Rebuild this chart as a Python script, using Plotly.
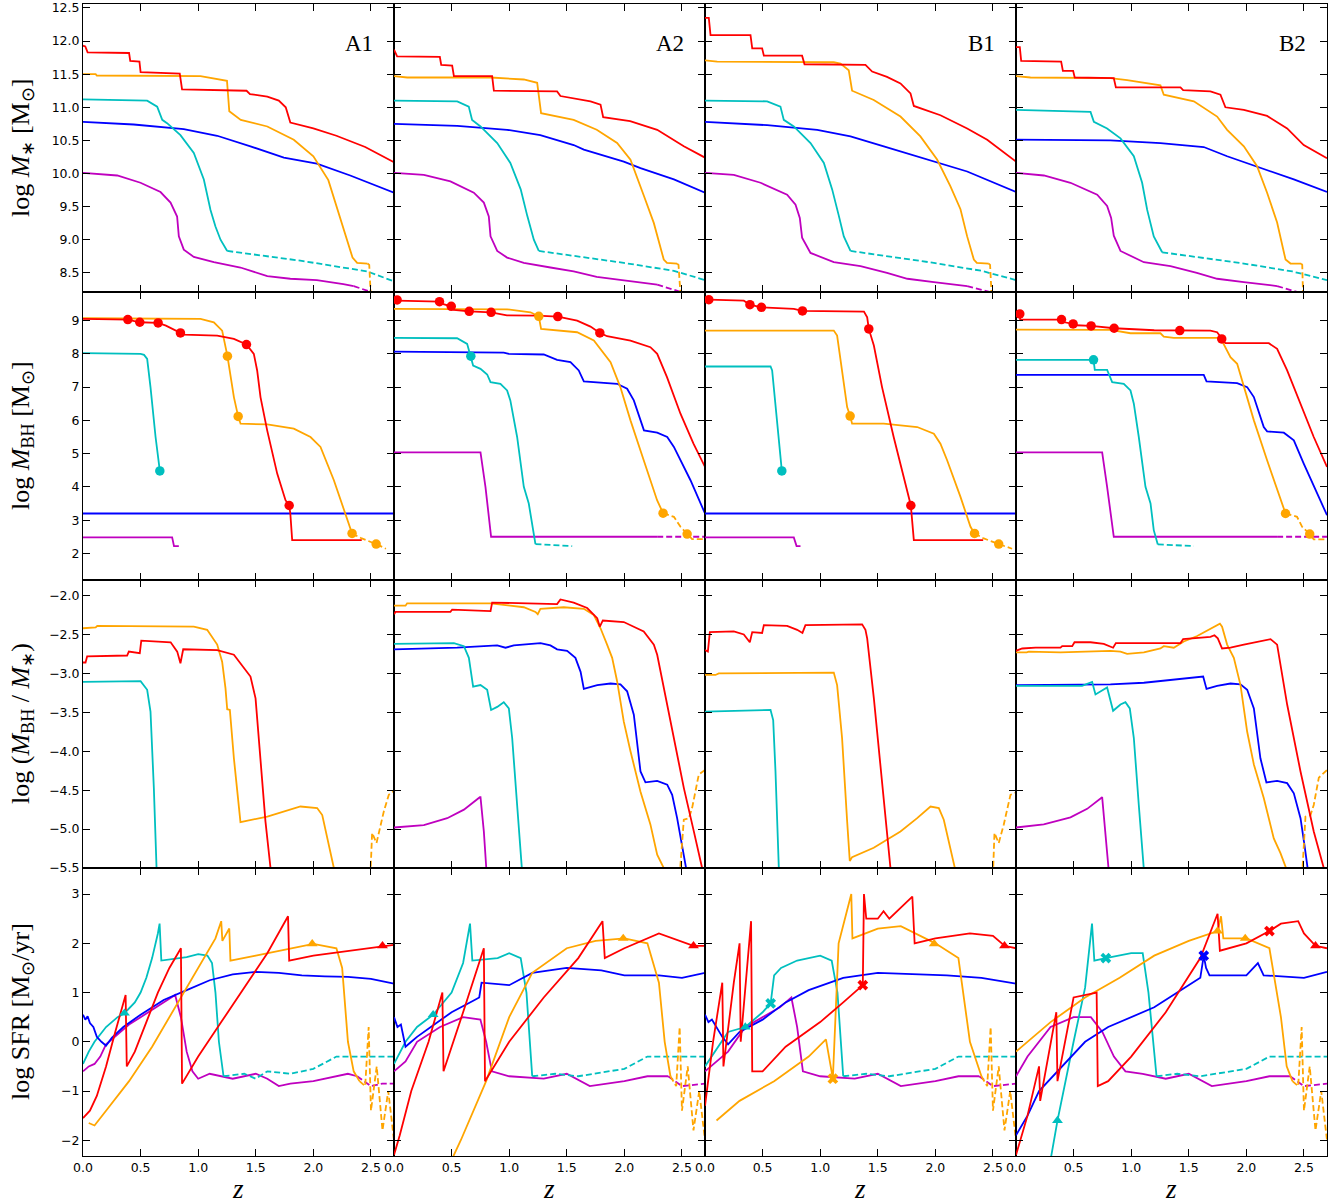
import plotly.graph_objects as go
from plotly.subplots import make_subplots

RED = '#ff0000'; ORANGE = '#ffa500'; CYAN = '#00bfbf'; BLUE = '#0000ff'; MAGENTA = '#bf00bf'

PANELS = ['A1', 'A2', 'B1', 'B2']
X_TICKS = [0.0, 0.5, 1.0, 1.5, 2.0, 2.5]
Y_TICKS = [
    [8.5, 9.0, 9.5, 10.0, 10.5, 11.0, 11.5, 12.0, 12.5],
    [2, 3, 4, 5, 6, 7, 8, 9],
    [-5.5, -5.0, -4.5, -4.0, -3.5, -3.0, -2.5, -2.0],
    [-2, -1, 0, 1, 2, 3],
]
Y_RANGES = [[8.21, 12.56], [1.2, 9.86], [-5.5, -1.8], [-2.32, 3.53]]
Y_TITLES = [
    'log <i>M</i><sub>∗</sub> [M<sub>⊙</sub>]',
    'log <i>M</i><sub>BH</sub> [M<sub>⊙</sub>]',
    'log (<i>M</i><sub>BH</sub> / <i>M</i><sub>∗</sub>)',
    'log SFR [M<sub>⊙</sub>/yr]',
]

# ---------------- Row 1: stellar mass ----------------
A1_MS_RED = ([0, 0.02, 0.04, 0.40, 0.41, 0.49, 0.50, 0.84, 0.86, 1.42, 1.45, 1.60, 1.70, 1.76, 1.80, 2.0, 2.2, 2.45, 2.7],
             [11.93, 11.92, 11.83, 11.82, 11.70, 11.69, 11.53, 11.51, 11.27, 11.25, 11.20, 11.16, 11.10, 11.00, 10.77, 10.68, 10.57, 10.40, 10.17])
A1_MS_ORA = ([0, 0.11, 0.12, 1.02, 1.25, 1.27, 1.37, 1.6, 1.83, 2.0, 2.13, 2.21, 2.28, 2.34, 2.38, 2.47],
             [11.50, 11.50, 11.48, 11.47, 11.40, 10.94, 10.81, 10.71, 10.51, 10.26, 9.90, 9.45, 9.05, 8.73, 8.65, 8.64])
A1_MS_ORA_D = ([2.47, 2.485, 2.50], [8.64, 8.62, 8.10])
A1_MS_CYA = ([0, 0.557, 0.644, 0.688, 0.73, 0.846, 0.962, 1.049, 1.107, 1.15, 1.194, 1.252],
             [11.12, 11.10, 11.01, 10.81, 10.76, 10.58, 10.31, 9.91, 9.45, 9.20, 9.0, 8.83])
A1_MS_CYA_D = ([1.252, 1.9, 2.47, 2.70], [8.83, 8.68, 8.52, 8.37])
A1_MS_BLU = ([0, 0.44, 0.875, 1.165, 1.454, 1.744, 2.03, 2.32, 2.70],
             [10.78, 10.74, 10.67, 10.57, 10.41, 10.24, 10.15, 9.97, 9.71])
A1_MS_MAG = ([0, 0.297, 0.499, 0.673, 0.76, 0.817, 0.832, 0.875, 0.962, 1.136, 1.367, 1.60, 1.80, 2.03, 2.26, 2.35],
             [10.01, 9.97, 9.86, 9.72, 9.56, 9.35, 9.05, 8.85, 8.74, 8.66, 8.58, 8.45, 8.41, 8.39, 8.33, 8.30])
A1_MS_MAG_D = ([2.35, 2.55], [8.30, 8.18])

A2_MS_RED = ([0, 0.027, 0.398, 0.41, 0.505, 0.52, 0.852, 0.867, 1.416, 1.445, 1.706, 1.793, 1.816, 2.05, 2.285, 2.43, 2.516, 2.70],
             [11.87, 11.77, 11.76, 11.64, 11.63, 11.47, 11.47, 11.25, 11.24, 11.17, 11.09, 11.04, 10.85, 10.79, 10.66, 10.51, 10.41, 10.24])
A2_MS_ORA = ([0, 0.115, 0.838, 1.127, 1.243, 1.277, 1.56, 1.76, 1.937, 2.053, 2.17, 2.256, 2.342, 2.37, 2.458],
             [11.47, 11.45, 11.45, 11.42, 11.37, 10.91, 10.81, 10.66, 10.46, 10.21, 9.66, 9.25, 8.70, 8.65, 8.64])
A2_MS_ORA_D = ([2.458, 2.47, 2.49], [8.64, 8.62, 8.10])
A2_MS_CYA = ([0, 0.549, 0.649, 0.678, 0.751, 0.896, 1.01, 1.10, 1.157, 1.214, 1.257],
             [11.10, 11.09, 11.01, 10.81, 10.71, 10.46, 10.16, 9.76, 9.36, 9.0, 8.83])
A2_MS_CYA_D = ([1.257, 1.995, 2.43, 2.70], [8.83, 8.65, 8.53, 8.39])
A2_MS_BLU = ([0, 0.549, 0.982, 1.27, 1.56, 1.648, 1.995, 2.14, 2.43, 2.70],
             [10.75, 10.72, 10.66, 10.58, 10.43, 10.36, 10.18, 10.08, 9.91, 9.71])
A2_MS_MAG = ([0, 0.259, 0.49, 0.693, 0.78, 0.823, 0.838, 0.896, 0.982, 1.127, 1.358, 1.56, 1.76, 1.995, 2.285],
             [10.01, 9.98, 9.88, 9.71, 9.56, 9.35, 9.05, 8.83, 8.73, 8.65, 8.58, 8.52, 8.44, 8.39, 8.32])
A2_MS_MAG_D = ([2.285, 2.473, 2.5], [8.32, 8.22, 8.19])

B1_MS_RED = ([0, 0.033, 0.048, 0.395, 0.41, 0.496, 0.511, 0.843, 0.864, 1.393, 1.451, 1.58, 1.697, 1.784, 1.813, 2.044, 2.276, 2.45, 2.70],
             [12.35, 12.35, 12.09, 12.09, 11.89, 11.89, 11.78, 11.78, 11.65, 11.64, 11.54, 11.46, 11.36, 11.21, 11.02, 10.88, 10.68, 10.51, 10.18])
B1_MS_ORA = ([0, 0.106, 1.118, 1.176, 1.248, 1.277, 1.465, 1.697, 1.87, 2.015, 2.13, 2.218, 2.276, 2.334, 2.36, 2.464],
             [11.71, 11.69, 11.68, 11.66, 11.56, 11.25, 11.11, 10.86, 10.56, 10.21, 9.81, 9.46, 9.05, 8.70, 8.65, 8.64])
B1_MS_ORA_D = ([2.464, 2.475, 2.49], [8.64, 8.62, 8.10])
B1_MS_CYA = ([0, 0.54, 0.655, 0.684, 0.771, 0.916, 1.032, 1.104, 1.162, 1.205, 1.263],
             [11.10, 11.09, 11.01, 10.81, 10.71, 10.46, 10.16, 9.76, 9.36, 9.05, 8.83])
B1_MS_CYA_D = ([1.263, 1.987, 2.4, 2.70], [8.83, 8.65, 8.53, 8.39])
B1_MS_BLU = ([0, 0.54, 0.974, 1.263, 1.552, 1.987, 2.276, 2.70],
             [10.78, 10.73, 10.66, 10.56, 10.41, 10.18, 10.03, 9.72])
B1_MS_MAG = ([0, 0.25, 0.482, 0.713, 0.786, 0.823, 0.843, 0.916, 1.118, 1.35, 1.58, 1.757, 1.987, 2.276],
             [10.01, 9.98, 9.86, 9.68, 9.53, 9.33, 9.03, 8.80, 8.66, 8.60, 8.50, 8.41, 8.36, 8.30])
B1_MS_MAG_D = ([2.276, 2.48, 2.52], [8.30, 8.21, 8.19])

B2_MS_RED = ([0, 0.033, 0.045, 0.392, 0.407, 0.496, 0.51, 0.849, 0.867, 1.428, 1.451, 1.688, 1.775, 1.818, 1.978, 2.18, 2.354, 2.498, 2.70],
             [11.91, 11.91, 11.70, 11.69, 11.55, 11.55, 11.45, 11.44, 11.30, 11.30, 11.26, 11.24, 11.19, 11.00, 10.96, 10.87, 10.68, 10.43, 10.23])
B2_MS_ORA = ([0, 0.126, 0.82, 0.965, 1.254, 1.283, 1.544, 1.746, 1.833, 1.978, 2.093, 2.18, 2.267, 2.34, 2.383, 2.476],
             [11.47, 11.45, 11.44, 11.41, 11.33, 11.19, 11.09, 10.86, 10.66, 10.41, 10.11, 9.71, 9.26, 8.70, 8.64, 8.64])
B2_MS_ORA_D = ([2.476, 2.485, 2.493], [8.64, 8.62, 8.10])
B2_MS_CYA = ([0, 0.647, 0.676, 0.791, 0.907, 1.023, 1.095, 1.139, 1.196, 1.269],
             [10.96, 10.93, 10.78, 10.68, 10.53, 10.26, 9.86, 9.45, 9.05, 8.81])
B2_MS_CYA_D = ([1.269, 1.978, 2.40, 2.70], [8.81, 8.64, 8.52, 8.39])
B2_MS_BLU = ([0, 0.82, 1.254, 1.63, 1.833, 2.122, 2.412, 2.70],
             [10.51, 10.50, 10.46, 10.40, 10.26, 10.09, 9.91, 9.72])
B2_MS_MAG = ([0, 0.242, 0.473, 0.705, 0.791, 0.826, 0.849, 0.907, 1.11, 1.341, 1.57, 1.746, 1.978, 2.267],
             [10.01, 9.97, 9.86, 9.68, 9.51, 9.33, 9.06, 8.83, 8.66, 8.60, 8.50, 8.41, 8.36, 8.30])
B2_MS_MAG_D = ([2.267, 2.455, 2.5], [8.30, 8.21, 8.18])

# ---------------- Row 2: black hole mass ----------------
A1_BH_RED = ([0, 0.389, 0.493, 0.652, 0.72, 0.846, 0.875, 1.165, 1.31, 1.419, 1.483, 1.512, 1.541, 1.599, 1.686, 1.758, 1.79, 1.80, 1.816, 2.42],
             [9.05, 9.03, 8.95, 8.93, 8.85, 8.63, 8.58, 8.55, 8.45, 8.28, 8.0, 7.5, 6.7, 5.7, 4.4, 3.6, 3.44, 3.2, 2.4, 2.4])
A1_BH_RED_PTS = ([0.389, 0.493, 0.652, 0.846, 1.419, 1.79], [9.03, 8.95, 8.93, 8.63, 8.28, 3.44])
A1_BH_ORA = ([0, 1.02, 1.136, 1.208, 1.254, 1.31, 1.347, 1.368, 1.60, 1.83, 1.975, 2.062, 2.178, 2.32, 2.336],
             [9.07, 9.05, 8.95, 8.70, 7.93, 6.7, 6.12, 5.9, 5.88, 5.75, 5.5, 5.2, 4.2, 2.7, 2.60])
A1_BH_ORA_D = ([2.336, 2.42, 2.545, 2.63], [2.60, 2.45, 2.28, 2.14])
A1_BH_ORA_PTS = ([1.254, 1.347, 2.336, 2.545], [7.93, 6.12, 2.60, 2.28])
A1_BH_CYA = ([0, 0.5, 0.53, 0.557, 0.586, 0.63, 0.667], [8.02, 8.0, 7.97, 7.85, 7.0, 5.5, 4.48])
A1_BH_CYA_PTS = ([0.667], [4.48])
A1_BH_BLU = ([0, 2.7], [3.2, 3.2])
A1_BH_MAG = ([0, 0.774, 0.79, 0.832], [2.48, 2.48, 2.22, 2.22])

A2_BH_RED = ([0, 0.027, 0.395, 0.42, 0.497, 0.52, 0.653, 0.843, 0.98, 1.243, 1.422, 1.59, 1.706, 1.787, 1.85, 2.053, 2.226, 2.285, 2.37, 2.487, 2.60, 2.70],
             [9.60, 9.60, 9.57, 9.50, 9.43, 9.32, 9.28, 9.25, 9.16, 9.15, 9.12, 9.0, 8.82, 8.63, 8.53, 8.40, 8.2, 8.0, 7.3, 6.2, 5.3, 4.6])
A2_BH_RED_PTS = ([0.027, 0.395, 0.497, 0.653, 0.843, 1.422, 1.787], [9.62, 9.57, 9.43, 9.28, 9.25, 9.12, 8.63])
A2_BH_ORA = ([0, 0.982, 1.185, 1.257, 1.277, 1.59, 1.735, 1.82, 1.88, 1.965, 2.053, 2.168, 2.284, 2.336],
             [9.35, 9.34, 9.25, 9.13, 8.75, 8.65, 8.4, 8.0, 7.75, 7.0, 6.0, 4.8, 3.6, 3.21])
A2_BH_ORA_D = ([2.336, 2.43, 2.487, 2.545, 2.588, 2.70], [3.21, 3.1, 2.8, 2.58, 2.43, 2.43])
A2_BH_ORA_PTS = ([1.257, 2.336, 2.545], [9.13, 3.21, 2.58])
A2_BH_CYA = ([0, 0.548, 0.635, 0.667, 0.687, 0.751, 0.809, 0.838, 0.924, 0.982, 1.01, 1.069, 1.127, 1.17, 1.214, 1.228],
             [8.48, 8.47, 8.30, 7.93, 7.65, 7.55, 7.38, 7.15, 7.10, 6.9, 6.6, 5.5, 4.0, 3.5, 2.5, 2.28])
A2_BH_CYA_D = ([1.228, 1.547], [2.28, 2.22])
A2_BH_CYA_PTS = ([0.667], [7.93])
A2_BH_BLU = ([0, 0.953, 0.997, 1.30, 1.416, 1.532, 1.604, 1.648, 1.937, 2.024, 2.082, 2.17, 2.285, 2.372, 2.43, 2.574, 2.70],
             [8.07, 8.04, 8.0, 7.98, 7.82, 7.75, 7.5, 7.17, 7.10, 6.95, 6.6, 5.7, 5.63, 5.5, 5.2, 4.2, 3.2])
A2_BH_MAG = ([0, 0.751, 0.794, 0.843, 2.285], [5.04, 5.04, 4.0, 2.5, 2.5])
A2_BH_MAG_D = ([2.285, 2.70], [2.5, 2.5])

B1_BH_RED = ([0, 0.037, 0.337, 0.39, 0.49, 0.771, 0.846, 1.38, 1.408, 1.422, 1.466, 1.537, 1.638, 1.73, 1.787, 1.813, 2.415],
             [9.63, 9.63, 9.60, 9.48, 9.40, 9.35, 9.29, 9.27, 9.1, 8.75, 8.25, 7.0, 5.5, 4.2, 3.44, 2.4, 2.4])
B1_BH_RED_PTS = ([0.033, 0.39, 0.49, 0.846, 1.422, 1.787], [9.63, 9.48, 9.40, 9.29, 8.75, 3.44])
B1_BH_ORA = ([0, 1.118, 1.147, 1.19, 1.234, 1.26, 1.277, 1.552, 1.842, 1.987, 2.044, 2.102, 2.218, 2.305, 2.34],
             [8.70, 8.70, 8.55, 7.5, 6.4, 6.13, 5.9, 5.9, 5.8, 5.6, 5.3, 4.8, 3.7, 2.8, 2.60])
B1_BH_ORA_D = ([2.34, 2.42, 2.55, 2.666], [2.60, 2.45, 2.28, 2.14])
B1_BH_ORA_PTS = ([1.26, 2.34, 2.55], [6.13, 2.60, 2.28])
B1_BH_CYA = ([0, 0.569, 0.583, 0.612, 0.655, 0.667], [7.62, 7.62, 7.5, 6.5, 4.9, 4.48])
B1_BH_CYA_PTS = ([0.667], [4.48])
B1_BH_BLU = ([0, 2.7], [3.2, 3.2])
B1_BH_MAG = ([0, 0.771, 0.795, 0.829], [2.48, 2.48, 2.22, 2.22])

B2_BH_RED = ([0.033, 0.036, 0.395, 0.42, 0.496, 0.52, 0.652, 0.852, 1.2, 1.422, 1.688, 1.746, 1.786, 1.818, 2.195, 2.267, 2.354, 2.47, 2.585, 2.70],
             [9.20, 9.03, 9.03, 8.95, 8.90, 8.86, 8.84, 8.77, 8.71, 8.70, 8.70, 8.65, 8.45, 8.32, 8.32, 8.15, 7.5, 6.5, 5.5, 4.6])
B2_BH_RED_PTS = ([0.033, 0.395, 0.496, 0.652, 0.852, 1.422, 1.786], [9.20, 9.03, 8.90, 8.84, 8.77, 8.70, 8.45])
B2_BH_ORA = ([0, 0.82, 0.994, 1.254, 1.283, 1.37, 1.775, 1.818, 1.862, 1.92, 1.978, 2.065, 2.18, 2.267, 2.34],
             [8.73, 8.72, 8.62, 8.62, 8.52, 8.48, 8.48, 8.2, 7.9, 7.7, 7.0, 6.0, 4.8, 3.9, 3.20])
B2_BH_ORA_D = ([2.34, 2.44, 2.484, 2.55, 2.585, 2.70], [3.20, 3.1, 2.8, 2.58, 2.42, 2.42])
B2_BH_ORA_PTS = ([2.34, 2.55], [3.20, 2.58])
B2_BH_CYA = ([0, 0.673, 0.684, 0.791, 0.835, 0.936, 0.994, 1.023, 1.066, 1.124, 1.168, 1.196, 1.231],
             [7.82, 7.82, 7.52, 7.52, 7.15, 7.10, 6.9, 6.5, 5.5, 4.0, 3.5, 2.7, 2.27])
B2_BH_CYA_D = ([1.231, 1.544], [2.27, 2.22])
B2_BH_CYA_PTS = ([0.673], [7.82])
B2_BH_BLU = ([0, 1.63, 1.654, 1.92, 2.007, 2.065, 2.151, 2.18, 2.325, 2.412, 2.498, 2.70],
             [7.37, 7.37, 7.17, 7.12, 7.0, 6.7, 5.8, 5.67, 5.63, 5.4, 4.7, 3.15])
B2_BH_MAG = ([0, 0.748, 0.791, 0.849, 2.267], [5.04, 5.04, 4.0, 2.5, 2.5])
B2_BH_MAG_D = ([2.267, 2.70], [2.5, 2.5])

# ---------------- Row 3: BH-to-stellar mass ratio ----------------
A1_RT_ORA = ([0, 0.11, 0.124, 0.962, 1.078, 1.165, 1.208, 1.237, 1.252, 1.275, 1.31, 1.344, 1.367, 1.6, 1.888, 2.033, 2.077, 2.178, 2.25],
             [-2.42, -2.41, -2.39, -2.40, -2.44, -2.63, -2.85, -3.19, -3.46, -3.47, -4.09, -4.64, -4.91, -4.84, -4.71, -4.73, -4.82, -5.5, -6.0])
A1_RT_ORA_D = ([2.495, 2.51, 2.548, 2.612, 2.655, 2.70], [-5.6, -5.05, -5.18, -4.77, -4.56, -4.51])
A1_RT_RED = ([0, 0.022, 0.036, 0.383, 0.398, 0.493, 0.506, 0.761, 0.818, 0.846, 0.87, 1.165, 1.31, 1.425, 1.454, 1.498, 1.541, 1.584, 1.628, 1.65],
             [-2.86, -2.86, -2.78, -2.77, -2.72, -2.74, -2.58, -2.60, -2.72, -2.87, -2.69, -2.70, -2.76, -2.98, -3.04, -3.32, -4.09, -4.90, -5.5, -6.0])
A1_RT_CYA = ([0, 0.5, 0.557, 0.586, 0.615, 0.638, 0.65], [-3.11, -3.10, -3.21, -3.49, -4.47, -5.5, -6.0])

A2_RT_ORA = ([0, 0.1, 0.114, 0.838, 1.127, 1.228, 1.248, 1.271, 1.474, 1.648, 1.735, 1.793, 1.85, 1.894, 1.937, 1.995, 2.053, 2.14, 2.226, 2.285, 2.342, 2.37],
             [-2.13, -2.13, -2.10, -2.10, -2.15, -2.21, -2.24, -2.17, -2.15, -2.17, -2.25, -2.42, -2.63, -2.80, -3.1, -3.62, -4.0, -4.52, -4.94, -5.33, -5.5, -5.7])
A2_RT_ORA_D = ([2.48, 2.516, 2.56, 2.588, 2.646, 2.70], [-5.6, -4.88, -4.86, -4.73, -4.30, -4.24])
A2_RT_RED = ([0, 0.013, 0.49, 0.505, 0.838, 0.852, 1.416, 1.445, 1.56, 1.677, 1.764, 1.787, 1.813, 1.995, 2.168, 2.256, 2.285, 2.342, 2.43, 2.516, 2.603, 2.675, 2.70],
             [-2.24, -2.21, -2.21, -2.18, -2.20, -2.09, -2.11, -2.05, -2.09, -2.16, -2.29, -2.40, -2.32, -2.34, -2.46, -2.63, -2.76, -3.19, -3.83, -4.47, -5.03, -5.5, -5.6])
A2_RT_CYA = ([0, 0.52, 0.607, 0.65, 0.687, 0.751, 0.809, 0.843, 0.896, 0.953, 0.997, 1.026, 1.069, 1.112, 1.13],
             [-2.62, -2.61, -2.65, -2.80, -3.17, -3.15, -3.21, -3.47, -3.43, -3.37, -3.45, -3.83, -4.69, -5.5, -5.9])
A2_RT_BLU = ([0, 0.548, 0.896, 0.968, 1.04, 1.272, 1.358, 1.416, 1.503, 1.575, 1.62, 1.648, 1.764, 1.88, 1.966, 2.024, 2.082, 2.14, 2.183, 2.285, 2.372, 2.415, 2.458, 2.50, 2.539, 2.56],
             [-2.69, -2.67, -2.64, -2.67, -2.64, -2.61, -2.64, -2.69, -2.71, -2.80, -2.98, -3.20, -3.15, -3.13, -3.14, -3.23, -3.53, -4.26, -4.40, -4.38, -4.43, -4.56, -4.86, -5.2, -5.5, -5.7])
A2_RT_MAG = ([0, 0.259, 0.462, 0.607, 0.745, 0.751, 0.78, 0.803, 0.81], [-4.98, -4.95, -4.86, -4.75, -4.59, -4.59, -5.03, -5.5, -5.7])

B1_RT_RED = ([0, 0.025, 0.042, 0.25, 0.337, 0.389, 0.41, 0.496, 0.511, 0.713, 0.8, 0.846, 0.872, 1.364, 1.393, 1.408, 1.466, 1.538, 1.61, 1.63],
             [-2.70, -2.72, -2.47, -2.46, -2.50, -2.60, -2.47, -2.48, -2.38, -2.39, -2.44, -2.48, -2.38, -2.37, -2.44, -2.55, -3.32, -4.43, -5.5, -5.8])
B1_RT_ORA = ([0, 0.091, 0.12, 1.118, 1.147, 1.19, 1.234, 1.257, 1.277, 1.465, 1.697, 1.842, 1.958, 2.03, 2.073, 2.175, 2.2],
             [-3.02, -3.02, -3.0, -2.99, -3.15, -3.83, -4.90, -5.41, -5.36, -5.24, -5.03, -4.86, -4.71, -4.73, -4.88, -5.5, -5.7])
B1_RT_ORA_D = ([2.50, 2.513, 2.55, 2.594, 2.652, 2.70], [-5.6, -5.05, -5.18, -4.94, -4.56, -4.53])
B1_RT_CYA = ([0, 0.569, 0.592, 0.612, 0.641, 0.65], [-3.49, -3.47, -3.60, -4.26, -5.5, -5.9])

B2_RT_RED = ([0, 0.039, 0.054, 0.17, 0.386, 0.401, 0.488, 0.508, 0.647, 0.762, 0.843, 0.867, 1.428, 1.451, 1.688, 1.723, 1.752, 1.789, 1.862, 1.978, 2.21, 2.267, 2.354, 2.47, 2.585, 2.672, 2.70],
             [-2.71, -2.69, -2.68, -2.67, -2.67, -2.65, -2.65, -2.60, -2.60, -2.62, -2.67, -2.61, -2.61, -2.56, -2.53, -2.51, -2.55, -2.68, -2.67, -2.63, -2.56, -2.63, -3.40, -4.26, -5.03, -5.5, -5.6])
B2_RT_ORA = ([0, 0.093, 0.111, 0.386, 0.82, 0.907, 0.965, 1.11, 1.254, 1.283, 1.37, 1.457, 1.573, 1.688, 1.77, 1.789, 1.833, 1.891, 1.949, 2.007, 2.065, 2.151, 2.238, 2.296, 2.348, 2.37],
             [-2.73, -2.73, -2.72, -2.73, -2.71, -2.72, -2.75, -2.73, -2.68, -2.65, -2.67, -2.59, -2.52, -2.43, -2.36, -2.40, -2.63, -2.80, -3.15, -3.75, -4.17, -4.60, -5.12, -5.31, -5.5, -5.6])
B2_RT_ORA_D = ([2.484, 2.513, 2.557, 2.585, 2.629, 2.70], [-5.6, -4.84, -4.82, -4.69, -4.34, -4.24])
B2_RT_BLU = ([0, 0.82, 1.11, 1.399, 1.625, 1.654, 1.746, 1.862, 1.949, 2.007, 2.065, 2.122, 2.174, 2.267, 2.354, 2.412, 2.47, 2.504, 2.536, 2.55],
             [-3.15, -3.14, -3.12, -3.08, -3.04, -3.20, -3.16, -3.13, -3.14, -3.21, -3.45, -4.09, -4.40, -4.38, -4.41, -4.54, -4.86, -5.20, -5.5, -5.7])
B2_RT_CYA = ([0, 0.574, 0.661, 0.69, 0.791, 0.843, 0.907, 0.95, 0.988, 1.023, 1.066, 1.11, 1.125],
             [-3.16, -3.16, -3.11, -3.27, -3.18, -3.48, -3.40, -3.37, -3.45, -3.83, -4.69, -5.5, -5.8])
B2_RT_MAG = ([0, 0.241, 0.473, 0.618, 0.748, 0.777, 0.806, 0.815], [-4.98, -4.94, -4.85, -4.74, -4.59, -5.03, -5.5, -5.7])

# ---------------- Row 4: star formation rate ----------------
A1_SF_BLU = ([0, 0.02, 0.04, 0.06, 0.09, 0.12, 0.16, 0.2, 0.25, 0.35, 0.5, 0.7, 0.9, 1.1, 1.3, 1.5, 1.7, 1.9, 2.1, 2.3, 2.5, 2.7],
             [0.55, 0.45, 0.52, 0.38, 0.30, 0.10, 0.0, -0.08, 0.08, 0.3, 0.55, 0.85, 1.05, 1.25, 1.37, 1.42, 1.40, 1.35, 1.33, 1.32, 1.28, 1.18])
A1_SF_CYA = ([0, 0.05, 0.1, 0.2, 0.3, 0.36, 0.45, 0.5, 0.55, 0.6, 0.65, 0.665, 0.68, 0.8, 0.9, 1.0, 1.08, 1.12, 1.15, 1.18, 1.22],
             [-0.45, -0.2, 0.0, 0.3, 0.5, 0.58, 0.8, 1.0, 1.3, 1.7, 2.2, 2.4, 1.65, 1.68, 1.72, 1.78, 1.75, 1.6, 1.0, 0.0, -0.7])
A1_SF_CYA_D = ([1.22, 1.4, 1.5, 1.6, 1.8, 2.0, 2.2, 2.4, 2.7], [-0.7, -0.65, -0.75, -0.6, -0.65, -0.55, -0.3, -0.3, -0.3])
A1_SF_MAG = ([0, 0.05, 0.1, 0.15, 0.2, 0.3, 0.4, 0.5, 0.6, 0.7, 0.8, 0.85, 0.9, 0.95, 1.0, 1.1, 1.3, 1.5, 1.6, 1.7, 1.8, 2.0, 2.1, 2.2, 2.3, 2.38],
             [-0.6, -0.5, -0.45, -0.3, -0.05, 0.15, 0.35, 0.5, 0.65, 0.8, 0.95, 0.5, -0.2, -0.6, -0.75, -0.65, -0.75, -0.65, -0.75, -0.9, -0.85, -0.8, -0.75, -0.7, -0.65, -0.7])
A1_SF_MAG_D = ([2.38, 2.5, 2.6, 2.7], [-0.7, -0.9, -0.85, -0.85])
A1_SF_RED = ([0, 0.06, 0.12, 0.2, 0.28, 0.37, 0.38, 0.45, 0.55, 0.65, 0.75, 0.85, 0.86, 1.0, 1.2, 1.4, 1.6, 1.78, 1.79, 2.0, 2.3, 2.6, 2.7],
             [-1.55, -1.4, -1.1, -0.5, 0.2, 0.95, -0.5, -0.2, 0.4, 1.0, 1.5, 1.9, -0.85, -0.3, 0.4, 1.1, 1.8, 2.55, 1.65, 1.75, 1.85, 1.95, 1.97])
A1_SF_ORA = ([0.05, 0.1, 0.2, 0.4, 0.6, 0.8, 1.0, 1.15, 1.2, 1.21, 1.27, 1.28, 1.5, 1.8, 2.0, 2.2, 2.25, 2.3, 2.35, 2.4],
             [-1.65, -1.7, -1.4, -0.8, -0.1, 0.7, 1.5, 2.1, 2.45, 2.05, 2.3, 1.65, 1.75, 1.9, 1.99, 1.9, 1.5, 0.0, -0.6, -0.8])
A1_SF_ORA_D = ([2.4, 2.45, 2.48, 2.5, 2.55, 2.6, 2.65, 2.7], [-0.8, -0.9, 0.3, -1.4, -0.5, -1.8, -1.0, -2.0])
A1_SF_TRI = ([0.36, 1.99, 2.6], [0.58, 1.99, 1.95])

A2_SF_BLU = ([0, 0.03, 0.06, 0.1, 0.15, 0.2, 0.35, 0.5, 0.7, 0.74, 0.76, 1.0, 1.2, 1.5, 1.8, 2.0, 2.3, 2.5, 2.7],
             [0.5, 0.3, 0.35, -0.1, 0.0, 0.1, 0.35, 0.6, 0.85, 0.9, 1.2, 1.15, 1.4, 1.5, 1.45, 1.35, 1.35, 1.3, 1.4])
A2_SF_CYA = ([0, 0.1, 0.2, 0.34, 0.5, 0.6, 0.66, 0.68, 0.9, 1.0, 1.1, 1.15, 1.2],
             [-0.45, 0.0, 0.3, 0.55, 1.0, 1.6, 2.4, 1.65, 1.7, 1.8, 1.7, 1.0, -0.7])
A2_SF_CYA_D = ([1.2, 1.4, 1.6, 2.0, 2.2, 2.7], [-0.7, -0.65, -0.7, -0.55, -0.3, -0.3])
A2_SF_MAG = ([0, 0.1, 0.2, 0.4, 0.6, 0.75, 0.8, 0.85, 1.0, 1.3, 1.5, 1.7, 2.0, 2.2, 2.38],
             [-0.6, -0.4, 0.0, 0.3, 0.5, 0.45, 0.0, -0.6, -0.7, -0.75, -0.65, -0.9, -0.8, -0.7, -0.7])
A2_SF_MAG_D = ([2.38, 2.5, 2.7], [-0.7, -0.9, -0.85])
A2_SF_RED = ([0, 0.05, 0.15, 0.3, 0.42, 0.43, 0.6, 0.78, 0.79, 1.0, 1.3, 1.6, 1.81, 1.83, 2.0, 2.3, 2.6, 2.7],
             [-2.3, -1.9, -1.0, 0.0, 1.0, -0.6, 0.6, 1.9, -0.8, 0.0, 0.9, 1.7, 2.45, 1.7, 1.9, 2.2, 1.95, 1.95])
A2_SF_ORA = ([0.5, 0.58, 0.8, 1.0, 1.2, 1.5, 1.75, 2.0, 2.2, 2.3, 2.35, 2.4],
             [-2.4, -2.0, -0.8, 0.5, 1.4, 1.9, 2.05, 2.1, 2.0, 1.2, 0.0, -0.7])
A2_SF_ORA_D = ([2.4, 2.45, 2.48, 2.5, 2.55, 2.6, 2.65, 2.7], [-0.7, -0.9, 0.3, -1.4, -0.5, -1.8, -1.0, -2.0])
A2_SF_TRI = ([0.34, 1.99, 2.6], [0.55, 2.1, 1.95])

B1_SF_BLU = ([0, 0.03, 0.06, 0.1, 0.15, 0.2, 0.3, 0.5, 0.7, 0.9, 1.2, 1.5, 1.8, 2.1, 2.4, 2.7],
             [0.55, 0.4, 0.45, 0.3, 0.1, -0.05, 0.2, 0.45, 0.8, 1.05, 1.3, 1.4, 1.38, 1.35, 1.3, 1.18])
B1_SF_CYA = ([0, 0.2, 0.35, 0.5, 0.57, 0.6, 0.66, 0.8, 1.0, 1.1, 1.15, 1.2],
             [-0.5, 0.2, 0.3, 0.6, 0.78, 1.35, 1.5, 1.65, 1.75, 1.65, 1.0, -0.7])
B1_SF_CYA_D = ([1.2, 1.4, 1.6, 2.0, 2.2, 2.7], [-0.7, -0.65, -0.7, -0.55, -0.3, -0.3])
B1_SF_MAG = ([0, 0.2, 0.35, 0.5, 0.65, 0.75, 0.8, 0.85, 1.0, 1.3, 1.5, 1.7, 2.0, 2.2, 2.38],
             [-0.6, -0.2, 0.3, 0.5, 0.7, 0.9, 0.3, -0.6, -0.7, -0.75, -0.65, -0.9, -0.8, -0.7, -0.7])
B1_SF_MAG_D = ([2.38, 2.5, 2.7], [-0.7, -0.9, -0.85])
B1_SF_RED = ([0, 0.07, 0.15, 0.16, 0.25, 0.3, 0.31, 0.4, 0.41, 0.5, 0.7, 1.0, 1.2, 1.37, 1.38, 1.4, 1.5, 1.55, 1.6, 1.8, 1.82, 2.0, 2.3, 2.5, 2.6, 2.7],
             [-1.3, 0.0, 1.2, -0.5, 1.2, 2.0, 0.0, 2.45, -0.6, -0.6, -0.1, 0.4, 0.8, 1.15, 3.0, 2.5, 2.5, 2.65, 2.5, 2.95, 2.0, 2.1, 2.2, 2.15, 1.95, 1.9])
B1_SF_ORA = ([0.1, 0.3, 0.6, 0.9, 1.05, 1.11, 1.16, 1.27, 1.28, 1.5, 1.7, 2.0, 2.2, 2.3, 2.4],
             [-1.6, -1.2, -0.8, -0.3, 0.05, -0.75, 2.0, 3.0, 2.1, 2.3, 2.35, 2.0, 1.7, 0.0, -0.7])
B1_SF_ORA_D = ([2.4, 2.45, 2.48, 2.5, 2.55, 2.6, 2.65, 2.7], [-0.7, -0.9, 0.3, -1.4, -0.5, -1.8, -1.0, -2.0])
B1_SF_TRI = ([0.35, 1.99, 2.6], [0.3, 1.99, 1.95])
B1_SF_X = ([0.57, 1.11, 1.37], [0.78, -0.75, 1.15])

B2_SF_BLU = ([0, 0.1, 0.2, 0.4, 0.6, 0.8, 1.0, 1.2, 1.4, 1.6, 1.63, 1.65, 1.68, 2.0, 2.1, 2.15, 2.5, 2.7],
             [-1.9, -1.5, -1.0, -0.5, 0.0, 0.3, 0.5, 0.7, 1.0, 1.3, 1.75, 1.5, 1.35, 1.35, 1.6, 1.35, 1.3, 1.42])
B2_SF_CYA = ([0.3, 0.36, 0.5, 0.6, 0.66, 0.68, 0.78, 1.0, 1.1, 1.15, 1.22],
             [-2.4, -1.6, 0.0, 1.1, 2.4, 1.65, 1.7, 1.8, 1.8, 1.0, -0.7])
B2_SF_CYA_D = ([1.22, 1.4, 1.6, 2.0, 2.2, 2.7], [-0.7, -0.65, -0.7, -0.55, -0.3, -0.3])
B2_SF_MAG = ([0, 0.1, 0.3, 0.5, 0.65, 0.75, 0.85, 0.95, 1.1, 1.3, 1.5, 1.7, 2.0, 2.2, 2.38],
             [-0.7, -0.3, 0.3, 0.5, 0.5, 0.2, -0.3, -0.6, -0.65, -0.75, -0.65, -0.9, -0.8, -0.7, -0.7])
B2_SF_MAG_D = ([2.38, 2.5, 2.7], [-0.7, -0.9, -0.85])
B2_SF_RED = ([0, 0.1, 0.2, 0.21, 0.35, 0.36, 0.5, 0.7, 0.71, 0.8, 1.0, 1.3, 1.6, 1.75, 1.77, 2.0, 2.2, 2.3, 2.45, 2.5, 2.6, 2.7],
             [-2.3, -1.5, -0.5, -1.2, 0.6, -0.8, 0.9, 1.0, -0.9, -0.8, -0.3, 0.6, 1.7, 2.6, 1.85, 2.0, 2.25, 2.4, 2.45, 2.2, 1.95, 1.9])
B2_SF_ORA = ([0, 0.3, 0.6, 0.9, 1.2, 1.5, 1.75, 1.78, 1.8, 2.0, 2.2, 2.3, 2.35, 2.4],
             [-0.2, 0.4, 0.9, 1.3, 1.75, 2.05, 2.25, 2.55, 2.1, 2.1, 1.9, 0.5, -0.5, -0.8])
B2_SF_ORA_D = ([2.4, 2.45, 2.48, 2.5, 2.55, 2.6, 2.65, 2.7], [-0.8, -0.9, 0.3, -1.4, -0.5, -1.8, -1.0, -2.0])
B2_SF_TRI = ([0.36, 1.75, 1.99, 2.6], [-1.6, 2.25, 2.1, 1.95])
B2_SF_X = ([0.78, 1.63, 2.2], [1.7, 1.75, 2.25])

A1_SF_TRI_COLORS = [CYAN, ORANGE, RED]
A2_SF_TRI_COLORS = [CYAN, ORANGE, RED]
B1_SF_TRI_COLORS = [CYAN, ORANGE, RED]
B1_SF_X_COLORS = [CYAN, ORANGE, RED]
B2_SF_TRI_COLORS = [CYAN, ORANGE, ORANGE, RED]
B2_SF_X_COLORS = [CYAN, BLUE, RED]

# ---------------- assemble ----------------
LINES = [
    (1, 1, MAGENTA, False, A1_MS_MAG), (1, 1, MAGENTA, True, A1_MS_MAG_D),
    (1, 1, BLUE, False, A1_MS_BLU),
    (1, 1, CYAN, False, A1_MS_CYA), (1, 1, CYAN, True, A1_MS_CYA_D),
    (1, 1, ORANGE, False, A1_MS_ORA), (1, 1, ORANGE, True, A1_MS_ORA_D),
    (1, 1, RED, False, A1_MS_RED),
    (1, 2, MAGENTA, False, A2_MS_MAG), (1, 2, MAGENTA, True, A2_MS_MAG_D),
    (1, 2, BLUE, False, A2_MS_BLU),
    (1, 2, CYAN, False, A2_MS_CYA), (1, 2, CYAN, True, A2_MS_CYA_D),
    (1, 2, ORANGE, False, A2_MS_ORA), (1, 2, ORANGE, True, A2_MS_ORA_D),
    (1, 2, RED, False, A2_MS_RED),
    (1, 3, MAGENTA, False, B1_MS_MAG), (1, 3, MAGENTA, True, B1_MS_MAG_D),
    (1, 3, BLUE, False, B1_MS_BLU),
    (1, 3, CYAN, False, B1_MS_CYA), (1, 3, CYAN, True, B1_MS_CYA_D),
    (1, 3, ORANGE, False, B1_MS_ORA), (1, 3, ORANGE, True, B1_MS_ORA_D),
    (1, 3, RED, False, B1_MS_RED),
    (1, 4, MAGENTA, False, B2_MS_MAG), (1, 4, MAGENTA, True, B2_MS_MAG_D),
    (1, 4, BLUE, False, B2_MS_BLU),
    (1, 4, CYAN, False, B2_MS_CYA), (1, 4, CYAN, True, B2_MS_CYA_D),
    (1, 4, ORANGE, False, B2_MS_ORA), (1, 4, ORANGE, True, B2_MS_ORA_D),
    (1, 4, RED, False, B2_MS_RED),

    (2, 1, MAGENTA, False, A1_BH_MAG), (2, 1, BLUE, False, A1_BH_BLU),
    (2, 1, CYAN, False, A1_BH_CYA),
    (2, 1, ORANGE, False, A1_BH_ORA), (2, 1, ORANGE, True, A1_BH_ORA_D),
    (2, 1, RED, False, A1_BH_RED),
    (2, 2, MAGENTA, False, A2_BH_MAG), (2, 2, MAGENTA, True, A2_BH_MAG_D),
    (2, 2, BLUE, False, A2_BH_BLU),
    (2, 2, CYAN, False, A2_BH_CYA), (2, 2, CYAN, True, A2_BH_CYA_D),
    (2, 2, ORANGE, False, A2_BH_ORA), (2, 2, ORANGE, True, A2_BH_ORA_D),
    (2, 2, RED, False, A2_BH_RED),
    (2, 3, MAGENTA, False, B1_BH_MAG), (2, 3, BLUE, False, B1_BH_BLU),
    (2, 3, CYAN, False, B1_BH_CYA),
    (2, 3, ORANGE, False, B1_BH_ORA), (2, 3, ORANGE, True, B1_BH_ORA_D),
    (2, 3, RED, False, B1_BH_RED),
    (2, 4, MAGENTA, False, B2_BH_MAG), (2, 4, MAGENTA, True, B2_BH_MAG_D),
    (2, 4, BLUE, False, B2_BH_BLU),
    (2, 4, CYAN, False, B2_BH_CYA), (2, 4, CYAN, True, B2_BH_CYA_D),
    (2, 4, ORANGE, False, B2_BH_ORA), (2, 4, ORANGE, True, B2_BH_ORA_D),
    (2, 4, RED, False, B2_BH_RED),

    (3, 1, CYAN, False, A1_RT_CYA),
    (3, 1, ORANGE, False, A1_RT_ORA), (3, 1, ORANGE, True, A1_RT_ORA_D),
    (3, 1, RED, False, A1_RT_RED),
    (3, 2, MAGENTA, False, A2_RT_MAG), (3, 2, BLUE, False, A2_RT_BLU),
    (3, 2, CYAN, False, A2_RT_CYA),
    (3, 2, ORANGE, False, A2_RT_ORA), (3, 2, ORANGE, True, A2_RT_ORA_D),
    (3, 2, RED, False, A2_RT_RED),
    (3, 3, CYAN, False, B1_RT_CYA),
    (3, 3, ORANGE, False, B1_RT_ORA), (3, 3, ORANGE, True, B1_RT_ORA_D),
    (3, 3, RED, False, B1_RT_RED),
    (3, 4, MAGENTA, False, B2_RT_MAG), (3, 4, BLUE, False, B2_RT_BLU),
    (3, 4, CYAN, False, B2_RT_CYA),
    (3, 4, ORANGE, False, B2_RT_ORA), (3, 4, ORANGE, True, B2_RT_ORA_D),
    (3, 4, RED, False, B2_RT_RED),

    (4, 1, MAGENTA, False, A1_SF_MAG), (4, 1, MAGENTA, True, A1_SF_MAG_D),
    (4, 1, CYAN, False, A1_SF_CYA), (4, 1, CYAN, True, A1_SF_CYA_D),
    (4, 1, BLUE, False, A1_SF_BLU),
    (4, 1, ORANGE, False, A1_SF_ORA), (4, 1, ORANGE, True, A1_SF_ORA_D),
    (4, 1, RED, False, A1_SF_RED),
    (4, 2, MAGENTA, False, A2_SF_MAG), (4, 2, MAGENTA, True, A2_SF_MAG_D),
    (4, 2, CYAN, False, A2_SF_CYA), (4, 2, CYAN, True, A2_SF_CYA_D),
    (4, 2, BLUE, False, A2_SF_BLU),
    (4, 2, ORANGE, False, A2_SF_ORA), (4, 2, ORANGE, True, A2_SF_ORA_D),
    (4, 2, RED, False, A2_SF_RED),
    (4, 3, MAGENTA, False, B1_SF_MAG), (4, 3, MAGENTA, True, B1_SF_MAG_D),
    (4, 3, CYAN, False, B1_SF_CYA), (4, 3, CYAN, True, B1_SF_CYA_D),
    (4, 3, BLUE, False, B1_SF_BLU),
    (4, 3, ORANGE, False, B1_SF_ORA), (4, 3, ORANGE, True, B1_SF_ORA_D),
    (4, 3, RED, False, B1_SF_RED),
    (4, 4, MAGENTA, False, B2_SF_MAG), (4, 4, MAGENTA, True, B2_SF_MAG_D),
    (4, 4, CYAN, False, B2_SF_CYA), (4, 4, CYAN, True, B2_SF_CYA_D),
    (4, 4, BLUE, False, B2_SF_BLU),
    (4, 4, ORANGE, False, B2_SF_ORA), (4, 4, ORANGE, True, B2_SF_ORA_D),
    (4, 4, RED, False, B2_SF_RED),
]

MARKERS = [
    (2, 1, RED, 'circle', A1_BH_RED_PTS), (2, 1, ORANGE, 'circle', A1_BH_ORA_PTS), (2, 1, CYAN, 'circle', A1_BH_CYA_PTS),
    (2, 2, RED, 'circle', A2_BH_RED_PTS), (2, 2, ORANGE, 'circle', A2_BH_ORA_PTS), (2, 2, CYAN, 'circle', A2_BH_CYA_PTS),
    (2, 3, RED, 'circle', B1_BH_RED_PTS), (2, 3, ORANGE, 'circle', B1_BH_ORA_PTS), (2, 3, CYAN, 'circle', B1_BH_CYA_PTS),
    (2, 4, RED, 'circle', B2_BH_RED_PTS), (2, 4, ORANGE, 'circle', B2_BH_ORA_PTS), (2, 4, CYAN, 'circle', B2_BH_CYA_PTS),
    (4, 1, A1_SF_TRI_COLORS, 'triangle-up', A1_SF_TRI),
    (4, 2, A2_SF_TRI_COLORS, 'triangle-up', A2_SF_TRI),
    (4, 3, B1_SF_TRI_COLORS, 'triangle-up', B1_SF_TRI),
    (4, 3, B1_SF_X_COLORS, 'x', B1_SF_X),
    (4, 4, B2_SF_TRI_COLORS, 'triangle-up', B2_SF_TRI),
    (4, 4, B2_SF_X_COLORS, 'x', B2_SF_X),
]

fig = make_subplots(rows=4, cols=4, horizontal_spacing=0, vertical_spacing=0)

for row, col, color, dashed, (zs, vs) in LINES:
    fig.add_trace(go.Scatter(x=zs, y=vs, mode='lines', showlegend=False, hoverinfo='skip',
                             line=dict(color=color, width=1.8, dash='6px,3px' if dashed else 'solid')),
                  row=row, col=col)

for row, col, colors, symbol, (zs, vs) in MARKERS:
    fig.add_trace(go.Scatter(x=zs, y=vs, mode='markers', showlegend=False, hoverinfo='skip',
                             marker=dict(color=colors, symbol=symbol, size=9.5, line=dict(width=0))),
                  row=row, col=col)

TICK_FONT = dict(family='DejaVu Sans', size=12.5, color='black')
for r in range(1, 5):
    for c in range(1, 5):
        fig.update_xaxes(row=r, col=c, range=[0, 2.7], tickvals=X_TICKS, tickformat='.1f',
                         ticks='inside', ticklen=7, tickwidth=1, tickcolor='black',
                         showline=True, linecolor='black', linewidth=1, mirror='ticks',
                         showgrid=False, zeroline=False, showticklabels=(r == 4), tickfont=TICK_FONT,
                         ticklabeloverflow='allow')
        fig.update_yaxes(row=r, col=c, range=Y_RANGES[r - 1], tickvals=Y_TICKS[r - 1],
                         tickformat='.1f' if r in (1, 3) else 'd',
                         ticks='inside', ticklen=7, tickwidth=1, tickcolor='black',
                         showline=True, linecolor='black', linewidth=1, mirror='ticks',
                         showgrid=False, zeroline=False, showticklabels=(c == 1), tickfont=TICK_FONT,
                         ticklabeloverflow='allow')

W, H = 1339, 1204
ML, MR, MT, MB = 83, 12, 0, 48
PW, PH = W - ML - MR, H - MT - MB


def px_to_paper(px, py):
    return (px - ML) / PW, 1 - (py - MT) / PH


annotations = []
SERIF = 'Liberation Serif'
for i, name in enumerate(PANELS):
    ax, ay = px_to_paper(375 + 311 * i, 40)
    annotations.append(dict(text=name, x=ax, y=ay, xref='paper', yref='paper', xanchor='right', yanchor='middle',
                            showarrow=False, font=dict(family=SERIF, size=23, color='black')))
    zx, zy = px_to_paper(238 + 311 * i, 1189)
    annotations.append(dict(text='<i>z</i>', x=zx, y=zy, xref='paper', yref='paper', xanchor='center', yanchor='middle',
                            showarrow=False, font=dict(family=SERIF, size=27, color='black')))
for r in range(4):
    tx, ty = px_to_paper(22, 144.5 + 289 * r)
    annotations.append(dict(text=Y_TITLES[r], x=tx, y=ty, xref='paper', yref='paper', xanchor='center', yanchor='middle',
                            textangle=-90, showarrow=False, font=dict(family=SERIF, size=26, color='black')))

fig.update_layout(width=W, height=H, margin=dict(l=ML, r=MR, t=MT, b=MB),
                  paper_bgcolor='white', plot_bgcolor='white', annotations=annotations)

fig.write_html('out.html')
